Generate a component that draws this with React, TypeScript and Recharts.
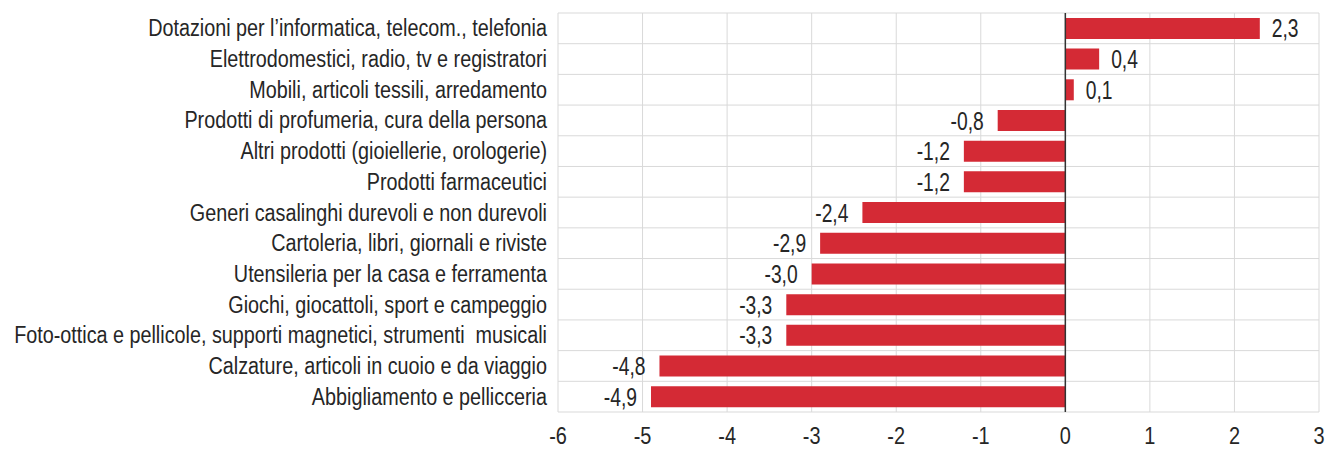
import React from 'react';
import { BarChart, Bar, XAxis, YAxis, CartesianGrid, ReferenceLine, LabelList } from 'recharts';

const categories = [
    'Dotazioni per l’informatica, telecom., telefonia',
    'Elettrodomestici, radio, tv e registratori',
    'Mobili, articoli tessili, arredamento',
    'Prodotti di profumeria, cura della persona',
    'Altri prodotti (gioiellerie, orologerie)',
    'Prodotti farmaceutici',
    'Generi casalinghi durevoli e non durevoli',
    'Cartoleria, libri, giornali e riviste',
    'Utensileria per la casa e ferramenta',
    'Giochi, giocattoli, sport e campeggio',
    'Foto-ottica e pellicole, supporti magnetici, strumenti  musicali',
    'Calzature, articoli in cuoio e da viaggio',
    'Abbigliamento e pellicceria',
];

const values = [2.3, 0.4, 0.1, -0.8, -1.2, -1.2, -2.4, -2.9, -3.0, -3.3, -3.3, -4.8, -4.9];

const xTicks = [-6, -5, -4, -3, -2, -1, 0, 1, 2, 3];

const data = categories.map((name, i) => ({ name, value: values[i] }));

// narrow look: Arial-metric font squeezed horizontally
const FONT = '"Liberation Sans", Arial, sans-serif';
const TEXT = '#262626';
const BAR_COLOR = '#d42a35';

const fmt = (v: number) => v.toFixed(1).replace('.', ',');

const CategoryTick = (props: any) => {
    const { x, y, payload } = props;
    return (
        <text
            transform={`translate(${x},${y}) scale(0.86,1)`}
            dy="0.35em"
            textAnchor="end"
            fill={TEXT}
            fontSize={23}
            fontFamily={FONT}
            style={{ whiteSpace: 'pre' }}
        >
            {payload.value}
        </text>
    );
};

const NumberTick = (props: any) => {
    const { x, y, payload } = props;
    return (
        <text
            transform={`translate(${x},${y}) scale(0.83,1)`}
            dy="0.71em"
            textAnchor="middle"
            fill={TEXT}
            fontSize={24}
            fontFamily={FONT}
        >
            {payload.value}
        </text>
    );
};

const ValueLabel = (props: any) => {
    const { x, y, width, height, value } = props;
    const neg = value < 0;
    const tx = neg ? x + width - 14 : x + width + 12;
    return (
        <text
            transform={`translate(${tx},${y + height / 2}) scale(0.77,1)`}
            dy="0.36em"
            textAnchor={neg ? 'end' : 'start'}
            fill={TEXT}
            fontSize={25}
            fontFamily={FONT}
        >
            {fmt(value)}
        </text>
    );
};

export default function App() {
    return (
        <div style={{ position: 'absolute', left: 0, top: 0, background: '#fff' }}>
            <BarChart
                width={1328}
                height={450}
                data={data}
                layout="vertical"
                margin={{ top: 13, right: 9, bottom: 0, left: 0 }}
                barCategoryGap="16%"
            >
                <CartesianGrid
                    stroke="#d9d9d9"
                    horizontalCoordinatesGenerator={({ offset }: any) =>
                        Array.from({ length: categories.length + 1 }, (_, i) => offset.top + (offset.height * i) / categories.length)
                    }
                />
                <XAxis
                    type="number"
                    domain={[-6, 3]}
                    ticks={xTicks}
                    height={38}
                    axisLine={false}
                    tickLine={false}
                    tickMargin={9}
                    tick={<NumberTick />}
                />
                <YAxis
                    type="category"
                    dataKey="name"
                    width={558}
                    axisLine={false}
                    tickLine={false}
                    tickMargin={5}
                    interval={0}
                    tick={<CategoryTick />}
                />
                <ReferenceLine x={0} stroke="#333" strokeWidth={1.5} />
                <Bar dataKey="value" fill={BAR_COLOR} isAnimationActive={false}>
                    <LabelList dataKey="value" content={ValueLabel} />
                </Bar>
            </BarChart>
        </div>
    );
}
